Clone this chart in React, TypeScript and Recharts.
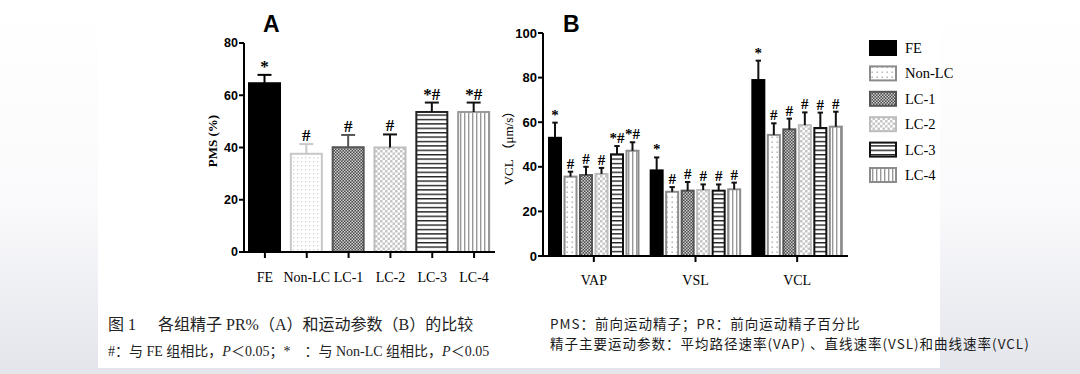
import React from "react"
import { BarChart, Bar, XAxis, YAxis } from "recharts"

const groups = ["FE", "Non-LC", "LC-1", "LC-2", "LC-3", "LC-4"]

// A: PMS (%)
const pmsMean = [64.6, 37.6, 40.1, 40.0, 53.6, 53.6]
const pmsErr = [3.2, 3.7, 4.7, 5.0, 3.6, 3.6]
const pmsMark = ["*", "#", "#", "#", "*#", "*#"]
const pmsTicks = [0, 20, 40, 60, 80]

// B: motility parameters (μm/s)
const params = ["VAP", "VSL", "VCL"]
const velTicks = [0, 20, 40, 60, 80, 100]
const feVel = [53.0, 38.4, 78.9]
const feErr = [6.8, 5.8, 8.7]
const nonLcVel = [35.6, 28.8, 54.3]
const nonLcErr = [2.2, 2.1, 5.2]
const lc1Vel = [36.3, 29.3, 56.8]
const lc1Err = [3.7, 3.9, 4.8]
const lc2Vel = [36.8, 29.6, 58.7]
const lc2Err = [2.7, 2.5, 5.7]
const lc3Vel = [45.6, 29.3, 57.4]
const lc3Err = [3.7, 2.8, 6.9]
const lc4Vel = [47.2, 29.9, 58.0]
const lc4Err = [3.8, 3.0, 6.7]
const feMark = ["*", "*", "*"]
const nonLcMark = ["#", "#", "#"]
const lc1Mark = ["#", "#", "#"]
const lc2Mark = ["#", "#", "#"]
const lc3Mark = ["*#", "#", "#"]
const lc4Mark = ["*#", "#", "#"]

const velMeans = [feVel, nonLcVel, lc1Vel, lc2Vel, lc3Vel, lc4Vel]
const velErrs = [feErr, nonLcErr, lc1Err, lc2Err, lc3Err, lc4Err]
const velMarks = [feMark, nonLcMark, lc1Mark, lc2Mark, lc3Mark, lc4Mark]

const dataA = groups.map((g, i) => ({ group: g, mean: pmsMean[i], err: pmsErr[i], mark: pmsMark[i] }))
const dataB = params.map((p, i) => {
  const row: any = { param: p }
  groups.forEach((_, k) => {
    row["m" + k] = velMeans[k][i]
    row["e" + k] = velErrs[k][i]
    row["k" + k] = velMarks[k][i]
  })
  return row
})

const fills = ["#000", "url(#dots)", "url(#checkDark)", "url(#checkLight)", "url(#hStripe)", "url(#vStripe)"]
const strokesA = ["#000", "#c8c8c8", "#555", "#bdbdbd", "#222", "#999"]
const errColA = ["#000", "#c8c8c8", "#555", "#111", "#111", "#111"]
const fillsB = ["#000", "url(#dotsB)", "url(#checkDark)", "url(#checkLight)", "url(#hStripe)", "url(#vStripe)"]
const strokesB = ["#000", "#8c8c8c", "#555", "#bdbdbd", "#111", "#8c8c8c"]

const serif = "'Liberation Serif', 'Times New Roman', serif"
const sans = "'Liberation Sans', Arial, sans-serif"

function barWithError(x: number, y: number, w: number, h: number, mean: number, err: number,
  mark: string, fill: string, stroke: string, errCol: string, fontSize: number) {
  const top = y - err * (h / mean)
  const cx = x + w / 2
  const cap = w * 0.45
  return (
    <g>
      <rect x={x} y={y} width={w} height={h} fill={fill} stroke={stroke} strokeWidth={2} />
      <line x1={cx} x2={cx} y1={y} y2={top} stroke={errCol} strokeWidth={2} />
      <line x1={cx - cap / 2} x2={cx + cap / 2} y1={top} y2={top} stroke={errCol} strokeWidth={2} />
      <text x={cx} y={top - 3} textAnchor="middle" fontFamily={serif} fontWeight="bold"
        fontSize={fontSize} fill="#000">{mark}</text>
    </g>
  )
}

const shapeA = (p: any) => {
  const i = p.index
  return barWithError(p.x, p.y, p.width, p.height, p.payload.mean, p.payload.err,
    p.payload.mark, fills[i], strokesA[i], errColA[i], 17)
}

const makeShapeB = (k: number) => (p: any) =>
  barWithError(p.x, p.y, p.width, p.height, p.payload["m" + k], p.payload["e" + k],
    p.payload["k" + k], fillsB[k], strokesB[k], "#111", 15)

const axisLine = { stroke: "#000", strokeWidth: 2 }

export default function App() {
  return (
    <div style={{ position: "absolute", left: 0, top: 0, width: 1080, height: 374, overflow: "hidden" }}>
      <svg width={1080} height={374} style={{ position: "absolute", left: 0, top: 0 }}>
        <defs>
          <linearGradient id="bg" x1="0" y1="0" x2="0" y2="1">
            <stop offset="0%" stopColor="#ffffff" />
            <stop offset="55%" stopColor="#fafafc" />
            <stop offset="100%" stopColor="#e3e5ec" />
          </linearGradient>
          <pattern id="dots" width="4" height="4" patternUnits="userSpaceOnUse">
            <rect width="4" height="4" fill="#fff" />
            <rect x="1" y="1" width="1.3" height="1.3" fill="#d2d2d2" />
          </pattern>
          <pattern id="dotsB" width="5" height="5" patternUnits="userSpaceOnUse">
            <rect width="5" height="5" fill="#fff" />
            <rect x="1.5" y="1.5" width="1.4" height="1.4" fill="#a8a8a8" />
          </pattern>
          <pattern id="checkDark" width="3" height="3" patternUnits="userSpaceOnUse">
            <rect width="3" height="3" fill="#4a4a4a" />
            <rect width="1.5" height="1.5" fill="#cfcfcf" />
            <rect x="1.5" y="1.5" width="1.5" height="1.5" fill="#cfcfcf" />
          </pattern>
          <pattern id="checkLight" width="5" height="5" patternUnits="userSpaceOnUse">
            <rect width="5" height="5" fill="#fff" />
            <rect width="2.5" height="2.5" fill="#c6c6c6" />
            <rect x="2.5" y="2.5" width="2.5" height="2.5" fill="#c6c6c6" />
          </pattern>
          <pattern id="hStripe" width="4" height="4.4" patternUnits="userSpaceOnUse">
            <rect width="4" height="4.4" fill="#fff" />
            <rect width="4" height="1.4" fill="#222" />
          </pattern>
          <pattern id="vStripe" width="4" height="4" patternUnits="userSpaceOnUse">
            <rect width="4" height="4" fill="#fff" />
            <rect width="1.4" height="4" fill="#999" />
          </pattern>
        </defs>
        <rect width={1080} height={374} fill="url(#bg)" />
        <rect x={98} y={0} width={842} height={368} fill="#fff" />

        <text x={263} y={32} fontFamily={sans} fontWeight="bold" fontSize={23}>A</text>
        <text x={563} y={32} fontFamily={sans} fontWeight="bold" fontSize={23}>B</text>

        <text transform="translate(217,141) rotate(-90)" textAnchor="middle" fontFamily={serif}
          fontWeight="bold" fontSize={13}>PMS (%)</text>
        <text transform="translate(513,145) rotate(-90)" textAnchor="middle"
          fontFamily={serif + ", 'Noto Sans CJK SC'"} fontSize={13}>VCL （μm/s）</text>

        {groups.map((g, k) => (
          <g key={g}>
            <rect x={870} y={41 + k * 25.4} width={26} height={14} fill={fillsB[k]} stroke={strokesB[k]} strokeWidth={2} />
            <text x={905} y={53 + k * 25.4} fontFamily={serif} fontSize={14.5}>{g}</text>
          </g>
        ))}

        <text x={108} y={330} fontFamily={serif + ", 'Noto Sans CJK SC'"} fontSize={16} fill="#222">
          图 1<tspan x={158}>各组精子 PR%（A）和运动参数（B）的比较</tspan>
        </text>
        <text x={108} y={356} fontFamily={serif + ", 'Noto Sans CJK SC'"} fontSize={14} fill="#222">
          #：与 FE 组相比，<tspan fontStyle="italic">P</tspan>＜0.05；*　：与 Non-LC 组相比，<tspan fontStyle="italic">P</tspan>＜0.05
        </text>
        <text x={550} y={329} fontFamily="'Noto Sans CJK SC', sans-serif" fontSize={13.5}
          letterSpacing={1} fill="#1a1a1a">
          PMS：前向运动精子；PR：前向运动精子百分比
        </text>
        <text x={550} y={349} fontFamily="'Noto Sans CJK SC', sans-serif" fontSize={13.5}
          letterSpacing={1} fill="#1a1a1a">
          精子主要运动参数：平均路径速率(VAP) 、直线速率(VSL)和曲线速率(VCL)
        </text>
      </svg>

      <div style={{ position: "absolute", left: 200, top: 0 }}>
        <BarChart width={300} height={300} data={dataA} margin={{ top: 43, right: 5, bottom: 18, left: 14 }}>
          <XAxis dataKey="group" interval={0} height={30} tickSize={6} tickMargin={14}
            axisLine={axisLine} tickLine={axisLine}
            tick={{ fill: "#000", fontSize: 14, fontFamily: serif }} />
          <YAxis domain={[0, 80]} ticks={pmsTicks} width={30} tickSize={5} tickMargin={1}
            axisLine={axisLine} tickLine={axisLine}
            tick={{ fill: "#000", fontSize: 12.5, fontWeight: "bold", fontFamily: sans }} />
          <Bar dataKey="mean" barSize={31} shape={shapeA} isAnimationActive={false} />
        </BarChart>
      </div>

      <div style={{ position: "absolute", left: 500, top: 0 }}>
        <BarChart width={360} height={300} data={dataB} barGap={3.5}
          margin={{ top: 33, right: 12, bottom: 14, left: 13 }}>
          <XAxis dataKey="param" interval={0} height={30} tickSize={6} tickMargin={13}
            axisLine={axisLine} tickLine={axisLine}
            tick={{ fill: "#000", fontSize: 14, fontFamily: serif }} />
          <YAxis domain={[0, 100]} ticks={velTicks} width={30} tickSize={5} tickMargin={1}
            axisLine={axisLine} tickLine={axisLine}
            tick={{ fill: "#000", fontSize: 13, fontWeight: "bold", fontFamily: sans }} />
          {groups.map((g, k) => (
            <Bar key={g} dataKey={"m" + k} name={g} barSize={12} shape={makeShapeB(k)} isAnimationActive={false} />
          ))}
        </BarChart>
      </div>
    </div>
  )
}
